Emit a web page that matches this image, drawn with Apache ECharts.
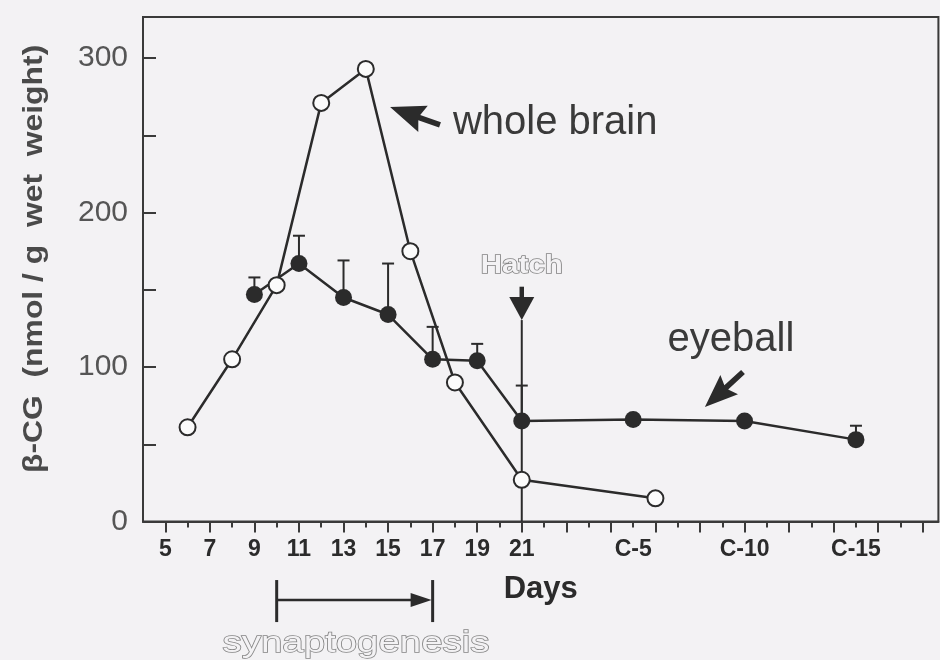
<!DOCTYPE html>
<html>
<head>
<meta charset="utf-8">
<script src="https://cdn.jsdelivr.net/npm/echarts@6/dist/echarts.min.js"></script>
<style>
  html, body { margin: 0; padding: 0; background: #f3f2f4; }
  #chart { width: 940px; height: 660px; }
</style>
</head>
<body>
<div id="chart"></div>
<script>
// beta-CG content during development (days of incubation, then days after hatching)
const brainDays   = [6, 8, 10, 12, 14, 16, 18, 21, 27];
const brainValues = [61, 105, 153, 271, 293, 175, 90, 27, 15];

const eyeDays   = [9, 11, 13, 15, 17, 19, 21, 26, 31, 36];
const eyeValues = [147, 167, 145, 134, 105, 104, 65, 66, 65, 53];
const eyeUpper  = [158, 185, 169, 167, 126, 115, 88, null, null, 62];

// axis ticks and labels; "C-n" = n days after hatching (day 21 + n)
const dayLabelValues = [5, 7, 9, 11, 13, 15, 17, 19, 21, 26, 31, 36];
const dayLabelTexts  = ['5', '7', '9', '11', '13', '15', '17', '19', '21', 'C-5', 'C-10', 'C-15'];
const longTickDays   = [5, 7, 9, 11, 13, 15, 17, 19, 21, 23, 25, 27, 29, 31, 33, 35, 37, 39];
const shortTickDays  = [6, 8, 10, 12, 14, 16, 18, 20, 22, 24, 26, 28, 30, 32, 34, 36, 38];
const yTickValues    = [0, 50, 100, 150, 200, 250, 300];
const yLabelValues   = [0, 100, 200, 300];

// annotations
const hatchDay = 21;
const synapDays = [10, 17];

const ink = '#2b2b2b';
const bg = '#f3f2f4';
const hollowStroke = '#858585';

const chart = echarts.init(document.getElementById('chart'), null, { renderer: 'canvas' });

const labelMap = {};
dayLabelValues.forEach((v, i) => { labelMap[v] = dayLabelTexts[i]; });

const option = {
  backgroundColor: bg,
  animation: false,
  grid: {
    left: 143, top: 17, width: 795.4, height: 504.5,
    show: true, borderColor: '#3a3a3a', borderWidth: 2, backgroundColor: 'transparent'
  },
  xAxis: [
    {
      type: 'value', min: 4, max: 39.7, position: 'bottom',
      name: 'Days', nameLocation: 'middle', nameGap: 52,
      nameTextStyle: { fontFamily: 'Liberation Sans', fontWeight: 'bold', fontSize: 31, color: ink },
      axisLine: { show: true, onZero: false, lineStyle: { color: '#3a3a3a', width: 2 } },
      axisTick: { show: true, inside: false, length: 11, customValues: longTickDays, lineStyle: { color: '#3a3a3a', width: 2 } },
      axisLabel: {
        show: true, margin: 17, customValues: dayLabelValues,
        formatter: v => labelMap[v] || '',
        fontFamily: 'Liberation Sans', fontWeight: 'bold', fontSize: 23, color: ink
      },
      splitLine: { show: false }
    },
    {
      type: 'value', min: 4, max: 39.7, position: 'bottom', offset: 0,
      axisLine: { show: false },
      axisTick: { show: true, inside: false, length: 6, customValues: shortTickDays, lineStyle: { color: '#3a3a3a', width: 2 } },
      axisLabel: { show: false },
      splitLine: { show: false }
    }
  ],
  yAxis: {
    type: 'value', min: 0, max: 326.6,
    axisLine: { show: true, lineStyle: { color: '#3a3a3a', width: 2 } },
    axisTick: { show: true, inside: true, length: 13, customValues: yTickValues, lineStyle: { color: '#3a3a3a', width: 2 } },
    axisLabel: {
      show: true, margin: 15, customValues: yLabelValues,
      fontFamily: 'Liberation Sans', fontSize: 30, color: '#555'
    },
    splitLine: { show: false }
  },
  series: [
    {
      name: 'eyeball error', type: 'custom', xAxisIndex: 0, yAxisIndex: 0,
      silent: true, z: 2, clip: false,
      data: eyeDays.map((d, i) => eyeUpper[i] == null ? null : [d, eyeValues[i], eyeUpper[i]]).filter(Boolean),
      renderItem: function (params, api) {
        const p0 = api.coord([api.value(0), api.value(1)]);
        const p1 = api.coord([api.value(0), api.value(2)]);
        const hw = 6;
        return {
          type: 'group',
          children: [
            { type: 'line', shape: { x1: p0[0], y1: p0[1], x2: p1[0], y2: p1[1] }, style: { stroke: ink, lineWidth: 2 } },
            { type: 'line', shape: { x1: p1[0] - hw, y1: p1[1], x2: p1[0] + hw, y2: p1[1] }, style: { stroke: ink, lineWidth: 2 } }
          ]
        };
      }
    },
    {
      name: 'eyeball', type: 'line', xAxisIndex: 0, yAxisIndex: 0, z: 3,
      data: eyeDays.map((d, i) => [d, eyeValues[i]]),
      symbol: 'circle', symbolSize: 17,
      lineStyle: { color: ink, width: 2.5 },
      itemStyle: { color: ink, borderWidth: 0 }
    },
    {
      name: 'whole brain', type: 'line', xAxisIndex: 0, yAxisIndex: 0, z: 4,
      data: brainDays.map((d, i) => [d, brainValues[i]]),
      symbol: 'circle', symbolSize: 16,
      lineStyle: { color: ink, width: 2.5 },
      itemStyle: { color: '#fbfbfb', borderColor: ink, borderWidth: 2 }
    }
  ]
};

chart.setOption(option);

const toPx = (x, y) => chart.convertToPixel({ xAxisIndex: 0, yAxisIndex: 0 }, [x, y]);

function arrowPoints(tail, tip, headLen, headHalf, shaftHalf) {
  const dx = tip[0] - tail[0], dy = tip[1] - tail[1];
  const L = Math.hypot(dx, dy);
  const ux = dx / L, uy = dy / L, nx = -uy, ny = ux;
  const bx = tip[0] - ux * headLen, by = tip[1] - uy * headLen;
  return [
    [tail[0] + nx * shaftHalf, tail[1] + ny * shaftHalf],
    [bx + nx * shaftHalf, by + ny * shaftHalf],
    [bx + nx * headHalf - ux * 4, by + ny * headHalf - uy * 4],
    [tip[0], tip[1]],
    [bx - nx * headHalf - ux * 4, by - ny * headHalf - uy * 4],
    [bx - nx * shaftHalf, by - ny * shaftHalf],
    [tail[0] - nx * shaftHalf, tail[1] - ny * shaftHalf]
  ];
}

// label anchors (day, value)
const brainArrow = { tail: [17.33, 256.7], tip: [15.09, 268.3] };
const brainText  = [17.91, 258];
const eyeArrow   = { tail: [30.93, 96.8], tip: [29.22, 74.1] };
const eyeText    = [30.39, 117.5];
const hatchText  = [hatchDay, 165.4];
const hatchShaft = [152, 145.3, 130.4];   // top of shaft, arrowhead base, arrowhead tip
const synapLevels = [-37.9, -50.8, -65.1]; // bracket top, line, bracket bottom
const synapText  = [13.56, -79.3];
const yTitle     = [1.1, 170];

const g = [];

// hatching marker
const hTop = toPx(hatchDay, hatchShaft[0]);
const hBase = toPx(hatchDay, hatchShaft[1]);
const hTip = toPx(hatchDay, hatchShaft[2]);
const hBottom = toPx(hatchDay, 0);
g.push({ type: 'line', z: 5, shape: { x1: hTop[0], y1: hTop[1], x2: hBase[0], y2: hBase[1] + 2 }, style: { stroke: ink, lineWidth: 4.5 } });
g.push({ type: 'polygon', z: 5, shape: { points: [[hBase[0] - 12.5, hBase[1]], [hBase[0] + 12.5, hBase[1]], [hTip[0], hTip[1]]] }, style: { fill: ink } });
g.push({ type: 'line', z: 1, shape: { x1: hTip[0], y1: hTip[1], x2: hBottom[0], y2: hBottom[1] }, style: { stroke: ink, lineWidth: 2 } });
const htp = toPx(hatchText[0], hatchText[1]);
g.push({
  type: 'text', z: 5, x: htp[0], y: htp[1], scaleX: 1.18,
  style: { text: 'Hatch', align: 'center', verticalAlign: 'middle', font: 'bold 25px "Liberation Sans"', fill: bg, stroke: hollowStroke, lineWidth: 1.5 }
});

// whole brain label and arrow
const ba = arrowPoints(toPx(...brainArrow.tail), toPx(...brainArrow.tip), 31, 14, 2.8);
g.push({ type: 'polygon', z: 5, shape: { points: ba }, style: { fill: ink } });
const btp = toPx(brainText[0], brainText[1]);
g.push({ type: 'text', z: 5, x: btp[0], y: btp[1], style: { text: 'whole brain', align: 'left', verticalAlign: 'middle', font: '40px "Liberation Sans"', fill: '#3a3a3a' } });

// eyeball label and arrow
const ea = arrowPoints(toPx(...eyeArrow.tail), toPx(...eyeArrow.tip), 29, 13, 2.8);
g.push({ type: 'polygon', z: 5, shape: { points: ea }, style: { fill: ink } });
const etp = toPx(eyeText[0], eyeText[1]);
g.push({ type: 'text', z: 5, x: etp[0], y: etp[1], style: { text: 'eyeball', align: 'center', verticalAlign: 'middle', font: '40px "Liberation Sans"', fill: '#3a3a3a' } });

// synaptogenesis bracket
const sL0 = toPx(synapDays[0], synapLevels[0]), sL1 = toPx(synapDays[0], synapLevels[2]);
const sR0 = toPx(synapDays[1], synapLevels[0]), sR1 = toPx(synapDays[1], synapLevels[2]);
const sM0 = toPx(synapDays[0], synapLevels[1]), sM1 = toPx(synapDays[1], synapLevels[1]);
g.push({ type: 'line', shape: { x1: sL0[0], y1: sL0[1], x2: sL1[0], y2: sL1[1] }, style: { stroke: ink, lineWidth: 3 } });
g.push({ type: 'line', shape: { x1: sR0[0], y1: sR0[1], x2: sR1[0], y2: sR1[1] }, style: { stroke: ink, lineWidth: 3 } });
g.push({ type: 'line', shape: { x1: sM0[0], y1: sM0[1], x2: sM1[0] - 18, y2: sM1[1] }, style: { stroke: ink, lineWidth: 2.5 } });
g.push({ type: 'polygon', shape: { points: [[sM1[0] - 22, sM1[1] - 7], [sM1[0] - 1, sM1[1]], [sM1[0] - 22, sM1[1] + 7]] }, style: { fill: ink } });
const stp = toPx(synapText[0], synapText[1]);
g.push({
  type: 'text', x: stp[0], y: stp[1], scaleX: 1.28,
  style: { text: 'synaptogenesis', align: 'center', verticalAlign: 'middle', font: '30px "Liberation Sans"', fill: bg, stroke: hollowStroke, lineWidth: 1.4 }
});

// y-axis title
const ytp = toPx(yTitle[0], yTitle[1]);
g.push({
  type: 'text', x: 35, y: ytp[1], rotation: Math.PI / 2, scaleX: 1.18,
  style: { text: 'β-CG  (nmol / g  wet  weight)', align: 'center', verticalAlign: 'middle', font: 'bold 27px "Liberation Sans"', fill: '#4a4a4a' }
});

chart.setOption({ graphic: { elements: g } });
</script>
</body>
</html>
